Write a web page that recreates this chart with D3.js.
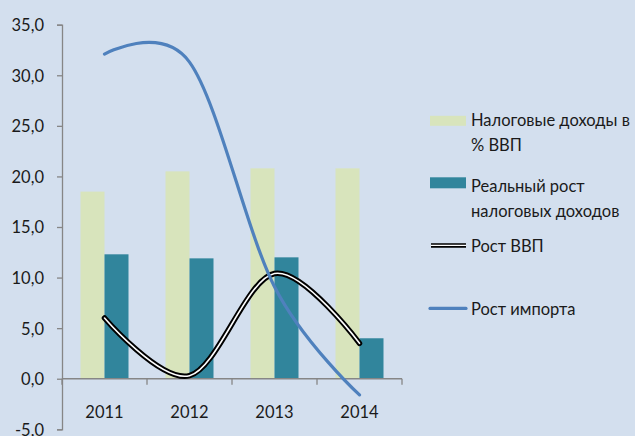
<!DOCTYPE html>
<html>
<head>
<meta charset="utf-8">
<script src="https://cdn.jsdelivr.net/npm/d3@7"></script>
<style>
  body { margin: 0; background: #d3dfee; }
  svg text { font-family: Lato, "Open Sans", sans-serif; font-size: 16.5px; fill: #1a1a1a; }
</style>
</head>
<body>
<div id="chart"></div>
<script>
const years = ["2011", "2012", "2013", "2014"];
const taxShare = [18.5, 20.5, 20.8, 20.8];      // Налоговые доходы в % ВВП
const taxGrowth = [12.3, 11.9, 12.0, 4.0];      // Реальный рост налоговых доходов
const gdpGrowth = [6.0, 0.3, 10.4, 3.5];        // Рост ВВП
const importGrowth = [32.1, 31.3, 9.1, -1.6];   // Рост импорта
const yTicks = [-5, 0, 5, 10, 15, 20, 25, 30, 35];
const legendLabels = [
  ["Налоговые доходы в", "% ВВП"],
  ["Реальный рост", "налоговых доходов"],
  ["Рост ВВП"],
  ["Рост импорта"]
];

const width = 635, height = 436;
const colLight = "#d8e4bc", colDark = "#31859c", colImport = "#4f81bd", axisCol = "#868686";

let svg = d3.select("#chart")
    .append("svg")
    .attr("width", width)
    .attr("height", height);

svg.append("rect")
    .attr("width", width)
    .attr("height", height)
    .attr("fill", "#d3dfee");

let x = d3.scaleBand()
    .domain(years)
    .range([62, 402]);

let y = d3.scaleLinear()
    .domain([-5, 35])
    .range([429.3, 24.7]);

let xSub = d3.scaleBand()
    .domain(["share", "growth"])
    .range([x.bandwidth() / 2 - 24, x.bandwidth() / 2 + 24]);

// y axis
let yAxis = svg.append("g")
    .attr("transform", `translate(${x.range()[0]}, 0)`)
    .call(d3.axisLeft(y).tickValues(yTicks).tickSize(5).tickPadding(13)
        .tickFormat(d => d3.format(".1f")(d).replace(".", ",").replace("−", "-")));
yAxis.select(".domain").attr("stroke", axisCol).attr("stroke-width", 1.3);
yAxis.selectAll(".tick line").attr("stroke", axisCol).attr("stroke-width", 1.3);
yAxis.selectAll("text").attr("fill", "#1a1a1a").style("font-size", "16.5px")
    .style("font-family", 'Lato, "Open Sans", sans-serif').attr("dy", "0.36em");

// bars
let groups = svg.append("g").selectAll("g")
    .data(years)
    .enter()
    .append("g")
    .attr("transform", d => `translate(${x(d)}, 0)`);

groups.append("rect")
    .attr("x", xSub("share"))
    .attr("y", (d, i) => y(taxShare[i]))
    .attr("width", xSub.bandwidth())
    .attr("height", (d, i) => y(0) - y(taxShare[i]))
    .attr("fill", colLight);

groups.append("rect")
    .attr("x", xSub("growth"))
    .attr("y", (d, i) => y(taxGrowth[i]))
    .attr("width", xSub.bandwidth())
    .attr("height", (d, i) => y(0) - y(taxGrowth[i]))
    .attr("fill", colDark);

// x axis at zero
let xAxis = svg.append("g")
    .attr("transform", `translate(0, ${y(0)})`);
xAxis.append("line")
    .attr("x1", x.range()[0])
    .attr("x2", x.range()[1])
    .attr("stroke", axisCol)
    .attr("stroke-width", 1.3);
xAxis.selectAll(".sep")
    .data(years.concat(["end"]))
    .enter()
    .append("line")
    .attr("x1", (d, i) => x.range()[0] + i * x.step())
    .attr("x2", (d, i) => x.range()[0] + i * x.step())
    .attr("y1", 0)
    .attr("y2", 6)
    .attr("stroke", axisCol)
    .attr("stroke-width", 1.3);
xAxis.selectAll(".lbl")
    .data(years)
    .enter()
    .append("text")
    .attr("x", d => x(d) + x.bandwidth() / 2)
    .attr("y", 39)
    .attr("text-anchor", "middle")
    .text(d => d);

// smoothed lines
let line = d3.line()
    .x((d, i) => x(years[i]) + x.bandwidth() / 2)
    .y(d => y(d))
    .curve(d3.curveCardinal.tension(0));

svg.append("path")
    .attr("d", line(gdpGrowth))
    .attr("fill", "none")
    .attr("stroke", "#000")
    .attr("stroke-width", 5.5)
    .attr("stroke-linecap", "round")
    .attr("stroke-linejoin", "round");
svg.append("path")
    .attr("d", line(gdpGrowth))
    .attr("fill", "none")
    .attr("stroke", "#fff")
    .attr("stroke-width", 1.6)
    .attr("stroke-linecap", "round");

svg.append("path")
    .attr("d", line(importGrowth))
    .attr("fill", "none")
    .attr("stroke", colImport)
    .attr("stroke-width", 3.2)
    .attr("stroke-linecap", "round");

// legend
let legend = svg.append("g");
let legendMid = [120.8, 182.8, 245.4, 308.4];
let legendBase = [126.2, 191.6, 252.3, 315];

legend.append("rect")
    .attr("x", 430).attr("y", legendMid[0] - 5)
    .attr("width", 36).attr("height", 10)
    .attr("fill", colLight);
legend.append("rect")
    .attr("x", 430).attr("y", legendMid[1] - 5.5)
    .attr("width", 36).attr("height", 11)
    .attr("fill", colDark);
legend.append("line")
    .attr("x1", 431).attr("x2", 466)
    .attr("y1", legendMid[2]).attr("y2", legendMid[2])
    .attr("stroke", "#000").attr("stroke-width", 4.5);
legend.append("line")
    .attr("x1", 431).attr("x2", 466)
    .attr("y1", legendMid[2]).attr("y2", legendMid[2])
    .attr("stroke", "#fff").attr("stroke-width", 1.4);
legend.append("line")
    .attr("x1", 430).attr("x2", 466)
    .attr("y1", legendMid[3]).attr("y2", legendMid[3])
    .attr("stroke", colImport).attr("stroke-width", 3.2)
    .attr("stroke-linecap", "round");

legendLabels.forEach((lines, i) => {
  let t = legend.append("text")
      .attr("x", 471)
      .attr("y", legendBase[i]);
  lines.forEach((s, j) => {
    t.append("tspan")
        .attr("x", 471)
        .attr("dy", j === 0 ? 0 : 25)
        .text(s);
  });
});
</script>
</body>
</html>
